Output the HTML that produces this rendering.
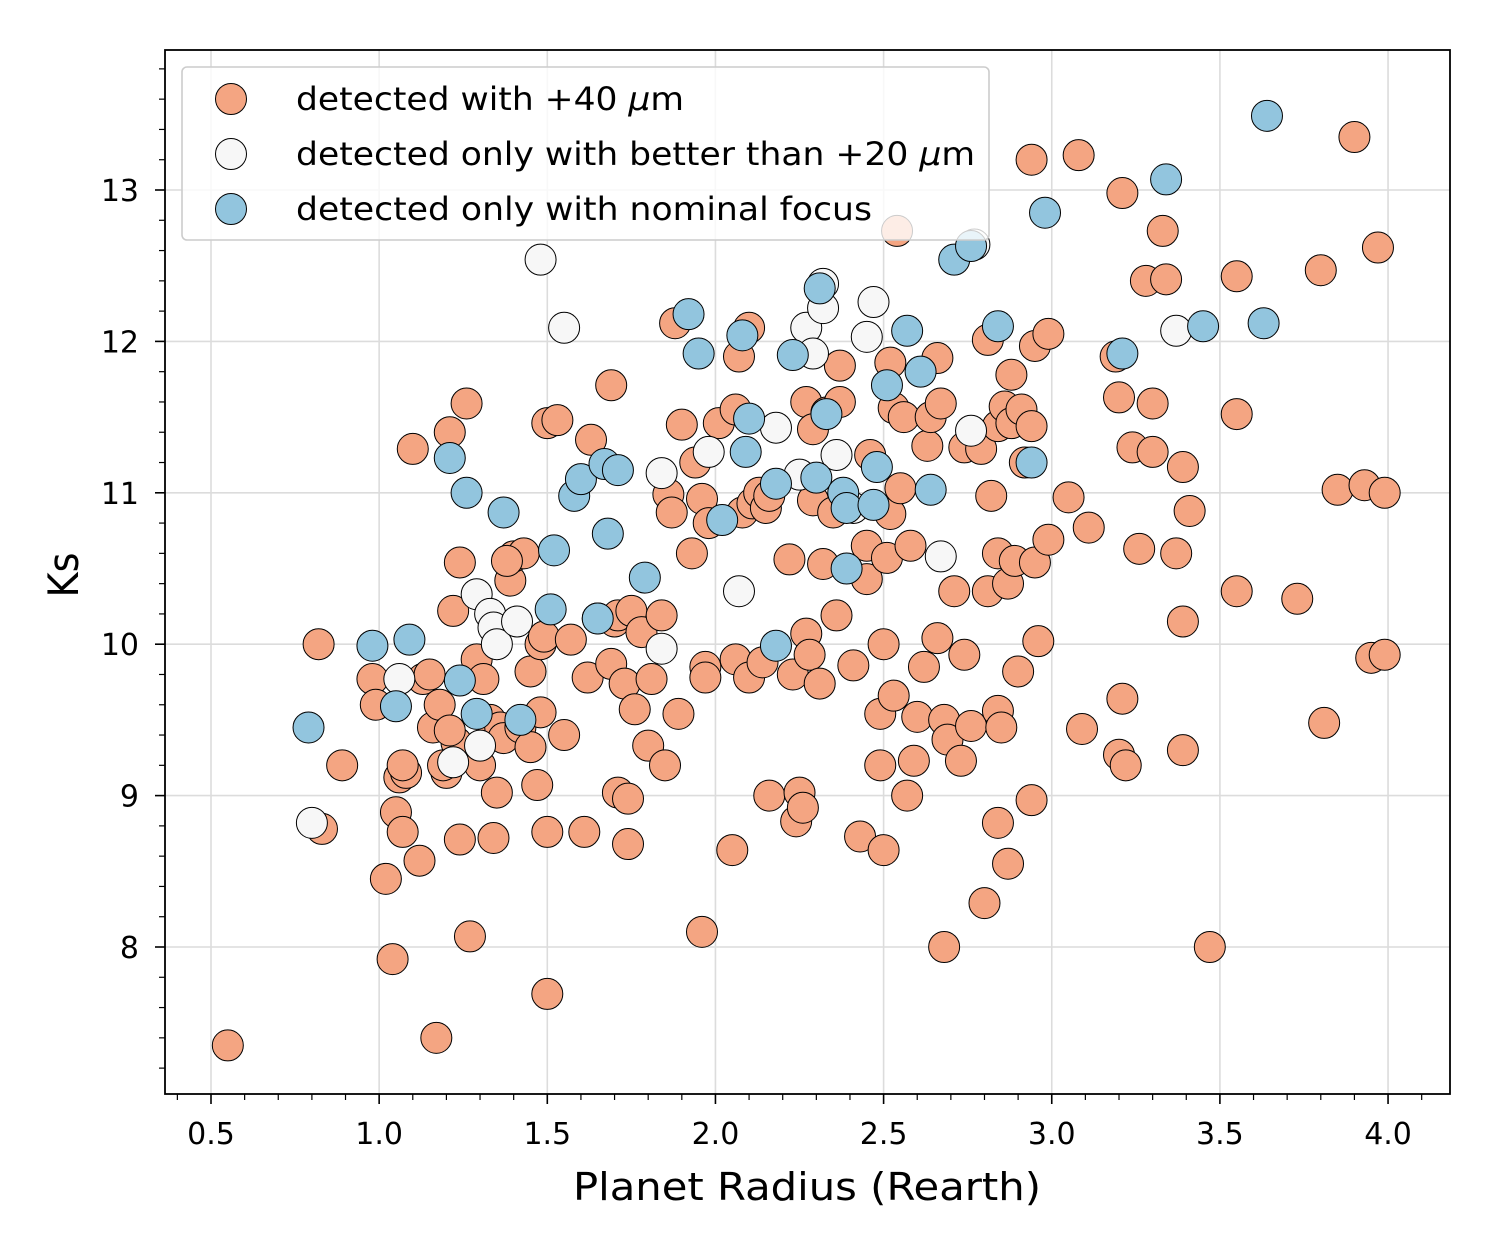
<!DOCTYPE html>
<html><head><meta charset="utf-8"><style>
html,body{margin:0;padding:0;background:#fff;}
svg{display:block;font-family:"DejaVu Sans","Liberation Sans",sans-serif;}
</style></head><body>
<svg id="chart" width="1500" height="1250" viewBox="0 0 1500 1250" xmlns="http://www.w3.org/2000/svg">
<rect width="1500" height="1250" fill="#fff"/>
<g id="grid"></g><g id="pts"></g><g id="axes"></g><g id="legend"></g>
</svg>
<script>
const xTicks=[0.5,1.0,1.5,2.0,2.5,3.0,3.5,4.0];
const yTicks=[8,9,10,11,12,13];
const orangeX=[0.55,0.82,0.83,0.89,0.98,0.99,1.02,1.04,1.05,1.07,1.06,1.08,1.07,1.10,1.12,1.13,1.15,1.16,1.17,1.18,1.2,1.21,1.22,1.23,1.24,1.24,1.26,1.27,1.29,1.3,1.31,1.33,1.34,1.35,1.36,1.37,1.39,1.40,1.42,1.43,1.45,1.45,1.47,1.48,1.48,1.49,1.50,1.50,1.5,1.53,1.55,1.57,1.61,1.62,1.63,1.65,1.69,1.69,1.70,1.71,1.71,1.73,1.74,1.74,1.75,1.76,1.78,1.80,1.81,1.84,1.85,1.86,1.87,1.88,1.89,1.9,1.93,1.94,1.96,1.96,1.97,1.97,1.98,2.01,2.05,2.06,2.06,2.07,2.08,2.10,2.10,2.11,2.13,2.14,2.15,2.16,2.16,2.22,2.23,2.24,2.25,2.26,2.27,2.27,2.28,2.29,2.29,2.31,2.32,2.33,2.35,2.36,2.37,2.37,2.41,2.43,2.45,2.45,2.46,2.49,2.49,2.5,2.5,2.51,2.52,2.52,2.53,2.53,2.54,2.55,2.56,2.57,2.58,2.59,2.60,2.62,2.63,2.64,2.66,2.66,2.67,2.68,2.68,2.69,2.71,2.73,2.74,2.74,2.76,2.79,2.80,2.81,2.81,2.82,2.84,2.84,2.84,2.84,2.85,2.86,2.87,2.87,2.88,2.88,2.89,2.90,2.91,2.92,2.94,2.94,2.94,2.95,2.95,2.96,2.99,2.99,3.05,3.08,3.09,3.11,3.19,3.2,3.2,3.21,3.21,3.22,3.24,3.26,3.28,3.30,3.3,3.33,3.34,3.37,3.39,3.39,3.39,3.41,3.47,3.55,3.55,3.55,3.73,3.80,3.81,3.85,3.90,3.93,3.95,3.97,3.99,3.99,1.21,1.19,1.38];
const orangeY=[7.35,10.0,8.78,9.2,9.77,9.6,8.45,7.92,8.89,8.76,9.12,9.15,9.2,11.29,8.57,9.77,9.8,9.45,7.4,9.6,9.15,11.4,10.22,9.35,8.71,10.54,11.59,8.07,9.9,9.2,9.77,9.5,8.72,9.02,9.45,9.38,10.42,10.58,9.45,10.6,9.32,9.82,9.07,9.55,10.0,10.05,8.76,7.69,11.46,11.48,9.4,10.03,8.76,9.78,11.35,10.17,11.71,9.87,10.15,9.02,10.19,9.74,8.98,8.68,10.22,9.57,10.08,9.33,9.77,10.19,9.2,10.99,10.87,12.12,9.54,11.45,10.6,11.2,10.96,8.1,9.85,9.78,10.8,11.46,8.64,9.9,11.55,11.9,10.87,12.09,9.78,10.93,11.0,9.88,10.9,10.98,9.0,10.56,9.8,8.83,9.02,8.92,10.07,11.6,9.93,11.42,10.95,9.74,10.53,11.53,10.87,10.19,11.6,11.84,9.86,8.73,10.43,10.65,11.25,9.2,9.54,8.64,10.0,10.57,11.86,10.86,9.66,11.56,12.73,11.03,11.5,9.0,10.65,9.23,9.52,9.85,11.31,11.5,11.89,10.04,11.59,9.5,8.0,9.37,10.35,9.23,9.93,11.3,9.46,11.29,8.29,12.01,10.35,10.98,10.6,9.56,8.82,11.44,9.45,11.57,8.55,10.4,11.78,11.46,10.55,9.82,11.55,11.2,13.2,8.97,11.44,11.97,10.54,10.02,12.05,10.69,10.97,13.23,9.44,10.77,11.9,11.63,9.27,12.98,9.64,9.2,11.3,10.63,12.4,11.59,11.27,12.73,12.41,10.6,9.3,10.15,11.17,10.88,8.0,12.43,11.52,10.35,10.3,12.47,9.48,11.02,13.35,11.05,9.91,12.62,11.0,9.93,9.43,9.2,10.55];
const whiteX=[0.8,1.06,1.22,1.29,1.30,1.33,1.34,1.35,1.41,1.48,1.55,1.84,1.84,1.98,2.07,2.18,2.25,2.27,2.29,2.32,2.32,2.36,2.41,2.45,2.47,2.67,2.76,2.77,3.37];
const whiteY=[8.82,9.77,9.22,10.33,9.33,10.2,10.11,10.0,10.15,12.54,12.09,11.13,9.97,11.27,10.35,11.43,11.12,12.09,11.92,12.38,12.22,11.25,10.9,12.03,12.26,10.58,11.41,12.64,12.07];
const blueX=[0.79,0.98,1.05,1.09,1.21,1.24,1.26,1.29,1.37,1.42,1.51,1.52,1.58,1.60,1.65,1.67,1.68,1.71,1.79,1.92,1.95,2.02,2.08,2.09,2.1,2.18,2.18,2.23,2.30,2.31,2.33,2.38,2.39,2.39,2.47,2.48,2.51,2.57,2.61,2.64,2.71,2.76,2.84,2.94,2.98,3.21,3.34,3.45,3.63,3.64];
const blueY=[9.45,9.99,9.59,10.03,11.23,9.76,11.0,9.54,10.87,9.5,10.23,10.62,10.98,11.09,10.17,11.19,10.73,11.15,10.44,12.18,11.92,10.82,12.04,11.27,11.49,11.06,9.99,11.91,11.1,12.35,11.52,11.0,10.9,10.5,10.92,11.17,11.71,12.07,11.8,11.02,12.54,12.63,12.1,11.2,12.85,11.92,13.07,12.1,12.12,13.49];

const NS='http://www.w3.org/2000/svg';
const L=165,R=1450,T=50,B=1094;
const sx=v=>211+(v-0.5)*336.3;
const sy=v=>947-(v-8)*151.4;
function mk(tag,attrs,parent){const e=document.createElementNS(NS,tag);for(const k in attrs)e.setAttribute(k,attrs[k]);parent.appendChild(e);return e;}
const grid=document.getElementById('grid'),pts=document.getElementById('pts'),axes=document.getElementById('axes'),leg=document.getElementById('legend');

xTicks.forEach(v=>{const x=sx(v);
 const g=mk('line',{x1:x,x2:x,y1:T,y2:B,stroke:'#dcdcdc','stroke-width':1.6},grid);
 
 
 const t=mk('line',{x1:x,x2:x,y1:B,y2:B+10,stroke:'#000','stroke-width':1.6},axes);
 
 
 const lb=mk('text',{x:x,y:1144,'text-anchor':'middle','font-size':30,fill:'#000'},axes);lb.textContent=v.toFixed(1);
 
 
});
for(let i=4;i<=41;i++){const v=i/10;if(Math.abs(v*2-Math.round(v*2))<1e-6)continue;const x=sx(v);if(x<L||x>R)continue;
 const t=mk('line',{x1:x,x2:x,y1:B,y2:B+6,stroke:'#000','stroke-width':1.2},axes);
 
 }
yTicks.forEach(v=>{const y=sy(v);
 const g=mk('line',{x1:L,x2:R,y1:y,y2:y,stroke:'#dcdcdc','stroke-width':1.6},grid);
 
 
 const t=mk('line',{x1:L-10,x2:L,y1:y,y2:y,stroke:'#000','stroke-width':1.6},axes);
 
 
 const lb=mk('text',{x:139,y:y+11,'text-anchor':'end','font-size':30,fill:'#000'},axes);lb.textContent=v;
 
 
});
for(let i=36;i<=69;i++){const v=i/5;if(Math.abs(v-Math.round(v))<1e-6)continue;const y=sy(v);if(y<T||y>B)continue;
 const t=mk('line',{x1:L-6,x2:L,y1:y,y2:y,stroke:'#000','stroke-width':1.2},axes);
 
 }

function series(xs,ys,fill,name){xs.forEach((x,i)=>{const c=mk('circle',{cx:sx(x),cy:sy(ys[i]),r:15.5,fill:fill,stroke:'#000','stroke-width':1},pts);
 
 });}
series(orangeX,orangeY,'#f4a582','point-detected-40um');
series(whiteX,whiteY,'#f7f7f7','point-detected-20um');
series(blueX,blueY,'#92c5de','point-nominal-focus');

const fr=mk('rect',{x:L,y:T,width:R-L,height:B-T,fill:'none',stroke:'#000','stroke-width':1.8},axes);


const xl=mk('text',{x:807,y:1200,'text-anchor':'middle','font-size':38,fill:'#000',textLength:468,lengthAdjust:'spacingAndGlyphs'},axes);xl.textContent='Planet Radius (Rearth)';


const yl=mk('text',{x:0,y:0,'text-anchor':'middle','font-size':42,fill:'#000',textLength:45,lengthAdjust:'spacingAndGlyphs',transform:'translate(78,575) rotate(-90)'},axes);yl.textContent='Ks';



const lb=mk('rect',{x:182,y:67,width:807,height:173,rx:5,fill:'#fff','fill-opacity':0.8,stroke:'#cccccc','stroke-width':1.6},leg);


const entries=[['#f4a582','detected with +40 ','legend-entry-40um',388],['#f7f7f7','detected only with better than +20 ','legend-entry-20um',679],['#92c5de','detected only with nominal focus','legend-entry-nominal',576]];
entries.forEach((e,i)=>{const y=99+i*55;
 const c=mk('circle',{cx:231,cy:y,r:15.5,fill:e[0],stroke:'#000','stroke-width':1},leg);
 
 
 const t=mk('text',{x:296,y:y+11,'font-size':32,fill:'#000',textLength:e[3],lengthAdjust:'spacingAndGlyphs'},leg);t.textContent=e[1];
 if(i<2){const ts=mk('tspan',{'font-style':'italic'},t);ts.textContent='μ';const t2=mk('tspan',{},t);t2.textContent='m';}
 
 
});
</script>
</body></html>
